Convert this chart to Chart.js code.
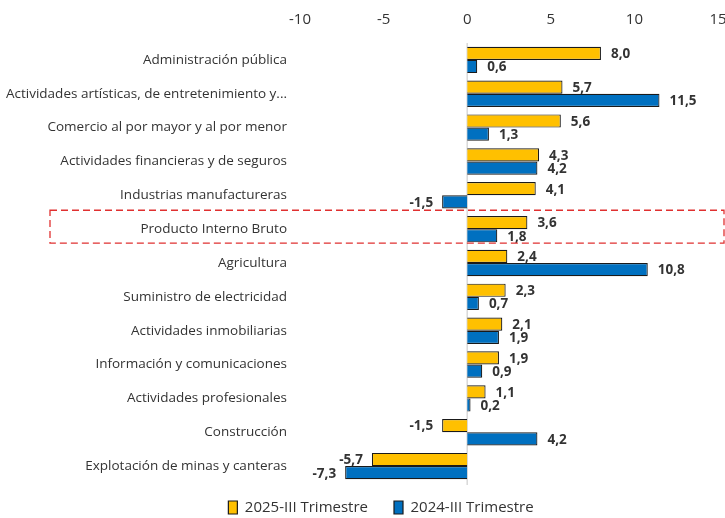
<!DOCTYPE html>
<html>
<head>
<meta charset="utf-8">
<script src="https://cdn.jsdelivr.net/npm/chart.js@4"></script>
<style>
  html, body { margin: 0; padding: 0; background: #fff; }
  #wrap { width: 725px; height: 518px; }
</style>
</head>
<body>
<div id="wrap"><canvas id="barChart"></canvas></div>
<script>
// Data ------------------------------------------------------------

const sectors = [
  'Administración pública',
  'Actividades artísticas, de entretenimiento y...',
  'Comercio al por mayor y al por menor',
  'Actividades financieras y de seguros',
  'Industrias manufactureras',
  'Producto Interno Bruto',
  'Agricultura',
  'Suministro de electricidad',
  'Actividades inmobiliarias',
  'Información y comunicaciones',
  'Actividades profesionales',
  'Construcción',
  'Explotación de minas y canteras'
];

const values2025 = [8.0, 5.7, 5.6, 4.3, 4.1, 3.6, 2.4, 2.3, 2.1, 1.9, 1.1, -1.5, -5.7];
const values2024 = [0.6, 11.5, 1.3, 4.2, -1.5, 1.8, 10.8, 0.7, 1.9, 0.9, 0.2, 4.2, -7.3];

const seriesNames = ['2025-III Trimestre', '2024-III Trimestre'];
const highlighted = 'Producto Interno Bruto';

// Plugins ---------------------------------------------------------

// value labels at bar ends, comma decimals
const valueLabels = {
  id: 'valueLabels',
  afterDatasetsDraw(chart) {
    const ctx = chart.ctx;
    ctx.save();
    ctx.font = 'bold 13.5px "Open Sans"';
    ctx.fillStyle = '#333';
    ctx.textBaseline = 'middle';
    chart.data.datasets.forEach((ds, di) => {
      chart.getDatasetMeta(di).data.forEach((bar, i) => {
        const v = ds.data[i];
        const txt = v.toFixed(1).replace('.', ',');
        if (v >= 0) {
          ctx.textAlign = 'left';
          ctx.fillText(txt, bar.x + 10, bar.y + 1);
        } else {
          ctx.textAlign = 'right';
          ctx.fillText(txt, bar.x - 9, bar.y + 1);
        }
      });
    });
    ctx.restore();
  }
};

// zero line + dashed box round the highlighted row
const decorations = {
  id: 'decorations',
  afterLayout(chart) {
    // legend sits a bit right of centre and tight under the plot
    const lg = chart.legend;
    lg.left += 22;
    lg.right += 22;
    lg.top -= 9;
  },
  beforeDatasetsDraw(chart) {
    const ctx = chart.ctx;
    const x = chart.scales.x;
    const area = chart.chartArea;
    ctx.save();
    ctx.strokeStyle = '#d9d9d9';
    ctx.lineWidth = 1.5;
    ctx.beginPath();
    ctx.moveTo(x.getPixelForValue(0), area.top);
    ctx.lineTo(x.getPixelForValue(0), area.bottom + 2);
    ctx.stroke();
    ctx.restore();
  },
  afterDraw(chart) {
    const ctx = chart.ctx;
    const y = chart.scales.y;
    const idx = sectors.indexOf(highlighted);
    const step = y.getPixelForValue(1) - y.getPixelForValue(0);
    const cy = y.getPixelForValue(idx);
    ctx.save();
    ctx.strokeStyle = '#e03030';
    ctx.lineWidth = 1.3;
    ctx.setLineDash([7, 4]);
    ctx.strokeRect(50, cy - step / 2 - 2, 674, step - 1);
    ctx.restore();
  }
};

// Chart -----------------------------------------------------------

const data = {
  labels: sectors,
  datasets: [{
    label: seriesNames[0],
    data: values2025,
    backgroundColor: '#FFC000',
    borderColor: '#1a1a1a',
    borderWidth: 1.2
  }, {
    label: seriesNames[1],
    data: values2024,
    backgroundColor: '#0070C0',
    borderColor: '#1a1a1a',
    borderWidth: 1.2
  }]
};

const config = {
  type: 'bar',
  data,
  options: {
    indexAxis: 'y',
    responsive: true,
    maintainAspectRatio: false,
    animation: false,
    categoryPercentage: 0.78,
    barPercentage: 1.0,
    layout: { padding: { left: 0, right: 7, top: 0, bottom: 0 } },
    scales: {
      x: {
        position: 'top',
        min: -10,
        max: 15,
        ticks: {
          stepSize: 5,
          padding: 14,
          color: '#333',
          font: { family: 'Open Sans', size: 15 }
        },
        grid: { display: false, drawTicks: false },
        border: { display: false },
        afterFit: (s) => {
          s.height = 43;
          s.paddingLeft = 0;
          s.paddingRight = 0;
        }
      },
      y: {
        ticks: {
          padding: 13,
          color: '#333',
          font: { family: 'Open Sans', size: 13.5 }
        },
        grid: { display: false, drawTicks: false },
        border: { display: false },
        afterFit: (s) => { s.width = 300; }
      }
    },
    plugins: {
      legend: {
        position: 'bottom',
        labels: {
          boxWidth: 9,
          boxHeight: 13,
          padding: 26,
          color: '#333',
          font: { family: 'Open Sans', size: 15 }
        }
      },
      tooltip: { enabled: false }
    }
  },
  plugins: [valueLabels, decorations, {
    id: 'legendHeight',
    afterInit(chart) {
      const fit = chart.legend.fit;
      chart.legend.fit = function () {
        fit.call(this);
        this.height = 35;
      };
    }
  }]
};

const barChart = new Chart(document.getElementById('barChart'), config);
</script>
</body>
</html>
